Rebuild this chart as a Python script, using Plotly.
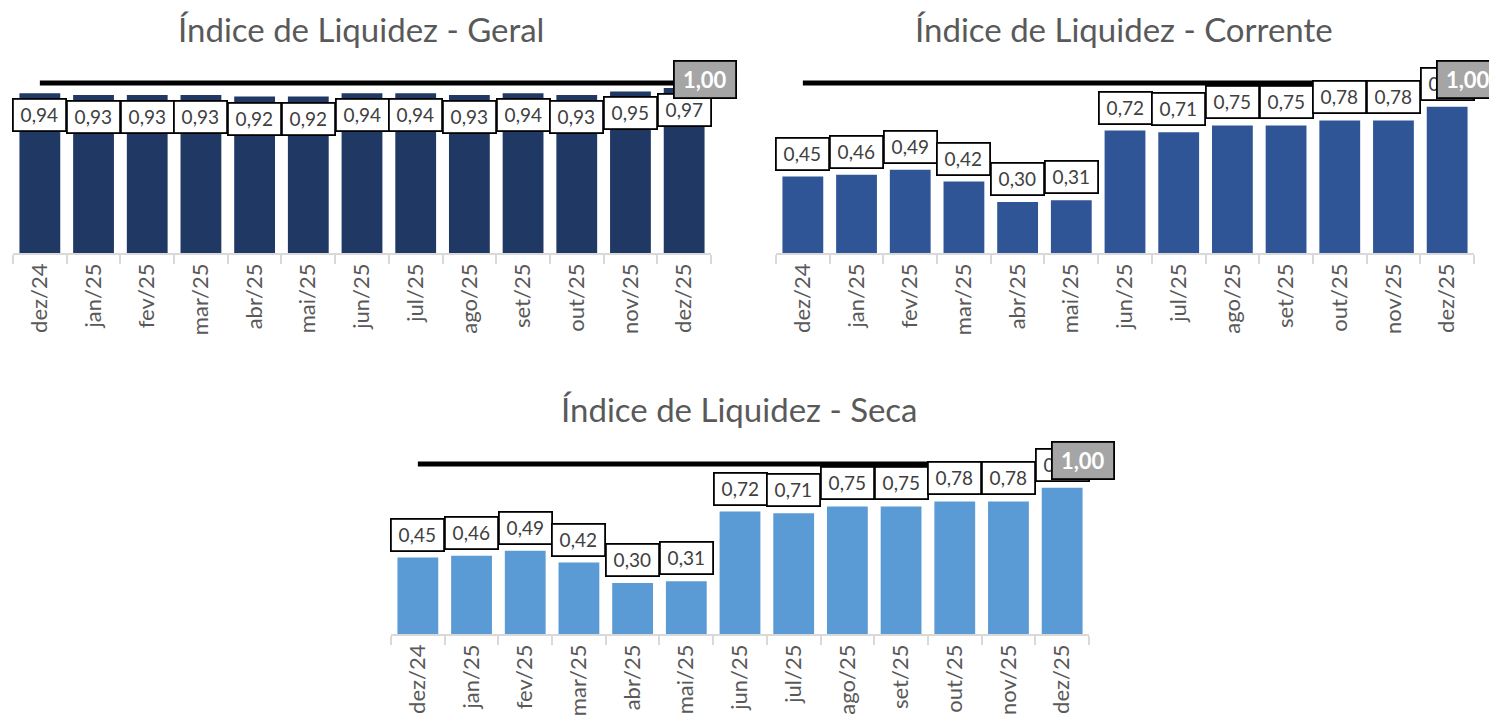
import plotly.graph_objects as go

categories = ["dez/24", "jan/25", "fev/25", "mar/25", "abr/25", "mai/25", "jun/25",
              "jul/25", "ago/25", "set/25", "out/25", "nov/25", "dez/25"]
geral = [0.94, 0.93, 0.93, 0.93, 0.92, 0.92, 0.94, 0.94, 0.93, 0.94, 0.93, 0.95, 0.97]
corrente = [0.45, 0.46, 0.49, 0.42, 0.30, 0.31, 0.72, 0.71, 0.75, 0.75, 0.78, 0.78, 0.86]
seca = [0.45, 0.46, 0.49, 0.42, 0.30, 0.31, 0.72, 0.71, 0.75, 0.75, 0.78, 0.78, 0.86]
referencia = [1.00] * len(categories)

titles = ["Índice de Liquidez - Geral", "Índice de Liquidez - Corrente", "Índice de Liquidez - Seca"]
colors = ["#203864", "#2f5597", "#5b9bd5"]

OFF = 8  # page body margin
W, H = 1497 - OFF, 723 - OFF
FONT = "Lato"

# panel geometry in screen pixels: (x_left, x_right, y_base, title_x, title_y, label_shift)
panels = [
    (13, 711, 253, 361, 29, -22),
    (776, 1474, 253, 1124, 29, 23),
    (391, 1089, 634, 739, 409, 23),
]
series = [geral, corrente, seca]
PX_PER_UNIT = 170
YMAX = 1.1

fig = go.Figure()
annotations = []

def fmt(v):
    return f"{v:.2f}".replace(".", ",")

for i, (vals, (xl, xr, yb, tx, ty, lshift)) in enumerate(zip(series, panels)):
    xl, xr, yb, tx, ty = xl - OFF, xr - OFF, yb - OFF, tx - OFF, ty - OFF
    n = i + 1
    xa = "x" if n == 1 else f"x{n}"
    ya = "y" if n == 1 else f"y{n}"
    fig.add_trace(go.Bar(x=categories, y=vals, marker=dict(color=colors[i], line=dict(width=0)),
                         xaxis=xa, yaxis=ya, showlegend=False, hoverinfo="skip"))
    fig.add_trace(go.Scatter(x=categories, y=referencia, mode="lines",
                             line=dict(color="black", width=5), xaxis=xa, yaxis=ya,
                             showlegend=False, hoverinfo="skip", cliponaxis=False))
    ytop = yb - YMAX * PX_PER_UNIT
    fig.update_layout(**{
        ("xaxis" if n == 1 else f"xaxis{n}"): dict(
            domain=[xl / W, xr / W], anchor=ya, type="category", automargin=False,
            range=[-0.5, len(categories) - 0.5],
            showline=True, linecolor="#d9d9d9", linewidth=1.5,
            ticks="outside", tickson="boundaries", ticklen=9, tickcolor="#d9d9d9", tickwidth=1.5,
            tickangle=-90, tickfont=dict(family=FONT, size=22, color="#595959"),
            showgrid=False, zeroline=False, fixedrange=True,
        ),
        ("yaxis" if n == 1 else f"yaxis{n}"): dict(
            domain=[1 - yb / H, 1 - ytop / H], anchor=xa, range=[0, YMAX], automargin=False,
            visible=False, showgrid=False, zeroline=False, fixedrange=True,
        ),
    })
    # value labels
    for c, v in zip(categories, vals):
        annotations.append(dict(
            x=c, y=v, xref=xa, yref=ya, text=fmt(v), showarrow=False,
            yshift=lshift, font=dict(family=FONT, size=19, color="#404040"),
            bgcolor="white", bordercolor="black", borderwidth=1.8, borderpad=2,
            width=47, height=26, align="center", valign="middle",
        ))
    # reference label
    annotations.append(dict(
        x=categories[-1], y=referencia[-1], xref=xa, yref=ya, text="<b>" + fmt(referencia[-1]) + "</b>",
        showarrow=False, xshift=21, yshift=3,
        font=dict(family=FONT, size=22, color="white"),
        bgcolor="#a5a5a5", bordercolor="black", borderwidth=1.8, borderpad=2,
        width=56, height=31, align="center", valign="middle",
    ))
    annotations.append(dict(
        x=tx / W, y=1 - ty / H, xref="paper", yref="paper", text=titles[i], showarrow=False,
        xanchor="center", yanchor="middle", font=dict(family=FONT, size=33, color="#595959"),
    ))

fig.update_layout(
    width=W, height=H, margin=dict(l=0, r=0, t=0, b=0, autoexpand=False),
    paper_bgcolor="white", plot_bgcolor="white",
    bargap=0.24, annotations=annotations,
)

fig.write_html("out.html", config={"displayModeBar": False})
